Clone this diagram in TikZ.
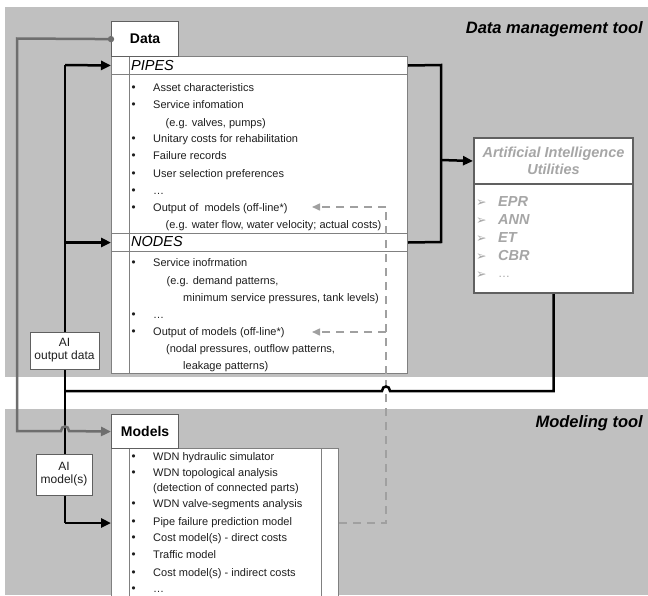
\documentclass[tikz,border=0pt]{standalone}
\usepackage{fontspec}
\setmainfont{Liberation Sans}
\newfontfamily\symfont{DejaVu Sans}
\usetikzlibrary{arrows.meta}
\definecolor{bggray}{HTML}{C0C0C0}
\definecolor{boxline}{HTML}{808080}
\definecolor{darkline}{HTML}{606060}
\definecolor{conngray}{HTML}{6E6E6E}
\definecolor{dashgray}{HTML}{A0A0A0}
\definecolor{aitext}{HTML}{A6A6A6}
\definecolor{txt}{HTML}{1E1E1E}
\tikzset{
  bodytxt/.style={font=\fontsize{11}{13}\selectfont, text=txt, inner sep=0pt, anchor=base west},
  bulsym/.style={font=\symfont\fontsize{11}{13}\selectfont, text=txt, inner sep=0pt, anchor=base},
  panel/.style={draw=boxline, line width=1pt, fill=white, anchor=north west, inner sep=0pt},
  hdrrow/.style={draw=boxline, line width=1pt, anchor=north west, inner sep=0pt},
  collinestyle/.style={draw=boxline, line width=1pt},
  tabbox/.style={draw=darkline, line width=1.2pt, fill=white, anchor=north west, inner sep=0pt,
    font=\bfseries\fontsize{14}{16}\selectfont, text=black},
  hdrtxt/.style={font=\itshape\fontsize{14.5}{17}\selectfont, text=black, inner sep=0pt, anchor=west},
  titletxt/.style={font=\bfseries\itshape\fontsize{16.5}{19}\selectfont, text=black, inner sep=0pt, anchor=base east},
  aibox/.style={draw=darkline, line width=2pt, fill=white, anchor=north west, inner sep=0pt},
  aihdrtxt/.style={font=\bfseries\itshape\fontsize{14.5}{17}\selectfont, text=aitext, align=center},
  aisym/.style={font=\symfont\fontsize{12.5}{14}\selectfont, text=aitext, inner sep=0pt, anchor=base west},
  aiitem/.style={font=\bfseries\itshape\fontsize{14.5}{17}\selectfont, text=aitext, inner sep=0pt, anchor=base west},
  aidots/.style={font=\fontsize{12}{14}\selectfont, text=aitext, inner sep=0pt, anchor=base west},
  lblbox/.style={draw=darkline, line width=1pt, fill=white, inner sep=0pt, align=center,
    font=\fontsize{12}{13}\selectfont, text=txt},
  blk/.style={draw=black, line width=2.5pt},
  blkarrow/.style={blk, -{Triangle[length=10pt,width=9pt]}},
  gcon/.style={draw=conngray, line width=2.5pt, -{Triangle[length=10pt,width=9pt]}},
  dsh/.style={draw=dashgray, line width=1.5pt, dash pattern=on 8pt off 6pt},
  dsharrow/.style={dsh, -{Triangle[length=8pt,width=7pt]}},
}
\newcommand\bulitem[3]{%
  \node[bulsym] (#1b) at (133.5,#2) {•};
  \node[bodytxt] (#1) at (153,#2) {#3};}
\begin{document}
\begin{tikzpicture}[x=1pt,y=-1pt]
\useasboundingbox (0,0) rectangle (648,595);
\clip (0,0) rectangle (648,595);
\fill[white] (0,0) rectangle (648,595);
\fill[bggray] (5,7) rectangle (648,377);
\fill[bggray] (5,409) rectangle (648,595);
\node[titletxt] (dmtitle) at (643,33) {Data management tool};
\node[titletxt] (mttitle) at (643,427) {Modeling tool};

% ---------- Data panel
\node[panel, minimum width=296pt, minimum height=317pt] (databox) at (111,56) {};
\node[hdrrow, minimum width=296pt, minimum height=18pt] (pipeshdr) at (111,56) {};
\node[hdrrow, minimum width=296pt, minimum height=18pt] (nodeshdr) at (111,233) {};
\draw[collinestyle] (129,56) -- (129,373);
\node[hdrtxt] (pipestxt) at (131,66) {PIPES};
\node[hdrtxt] (nodestxt) at (131,242) {NODES};
\node[tabbox, minimum width=67pt, minimum height=35pt] (datatab) at (111,21) {Data};

\bulitem{pa}{91}{Asset characteristics}
\bulitem{pb}{108}{Service infomation}
\node[bodytxt] (pb2) at (165.5,126) {(e.g. valves, pumps)};
\bulitem{pc}{142}{Unitary costs for rehabilitation}
\bulitem{pd}{159}{Failure records}
\bulitem{pe}{177}{User selection preferences}
\bulitem{pf}{194}{…}
\bulitem{pg}{211}{Output of\ \ models (off-line*)}
\node[bodytxt] (pg2) at (165.5,228) {(e.g. water flow, water velocity; actual costs)};

\bulitem{na}{266}{Service inofrmation}
\node[bodytxt] (na2) at (166.5,284) {(e.g. demand patterns,};
\node[bodytxt] (na3) at (183,301) {minimum service pressures, tank levels)};
\bulitem{nb}{318}{…}
\bulitem{nc}{335}{Output of models (off-line*)}
\node[bodytxt] (nc2) at (166,352) {(nodal pressures, outflow patterns,};
\node[bodytxt] (nc3) at (183,369) {leakage patterns)};

% ---------- Models panel
\node[panel, minimum width=227pt, minimum height=160pt] (modelsbox) at (111,448) {};
\draw[collinestyle] (129,448) -- (129,600);
\draw[collinestyle] (321,448) -- (321,600);
\node[tabbox, minimum width=67pt, minimum height=34pt] (modelstab) at (111,414) {Models};

\bulitem{ma}{460}{WDN hydraulic simulator}
\bulitem{mb}{476}{WDN topological analysis}
\node[bodytxt] (mb2) at (153,491) {(detection of connected parts)};
\bulitem{mc}{507}{WDN valve-segments analysis}
\bulitem{md}{525}{Pipe failure prediction model}
\bulitem{me}{541}{Cost model(s) - direct costs}
\bulitem{mf}{558}{Traffic model}
\bulitem{mg}{576}{Cost model(s) - indirect costs}
\bulitem{mh}{592}{…}

% ---------- AI utilities
\node[aibox, minimum width=159pt, minimum height=46pt] (aihdr) at (473,137) {};
\node[aihdrtxt] (aihdrtxt) at (aihdr.center) {Artificial Intelligence\\Utilities};
\node[aibox, minimum width=159pt, minimum height=109pt] (aibody) at (473,183) {};
\node[aisym] (s1) at (476,206) {➢}; \node[aiitem] (t1) at (498,206) {EPR};
\node[aisym] (s2) at (476,224) {➢}; \node[aiitem] (t2) at (498,224) {ANN};
\node[aisym] (s3) at (476,242) {➢}; \node[aiitem] (t3) at (498,242) {ET};
\node[aisym] (s4) at (476,260) {➢}; \node[aiitem] (t4) at (498,260) {CBR};
\node[aisym] (s5) at (476,278) {➢}; \node[aidots] (t5) at (498,277) {…};

% ---------- coordinates
\coordinate (brTop) at (441,65);
\coordinate (brBot) at (441,242);
\coordinate (brMid) at (441,160);
\coordinate (busTop) at (65,65);
\coordinate (busBot) at (65,523);
\coordinate (busJoin) at (65,391);
\coordinate (hopR) at (390,391);
\coordinate (hopL) at (382,391);
\coordinate (dashCorner) at (386,523);
\coordinate (dashTop) at (386,207);
\coordinate (dashMid) at (386,332);
\coordinate (pOutTip) at (312,207);
\coordinate (nOutTip) at (312,332);
\coordinate (gTop) at (17,38.5);
\coordinate (gBot) at (17,431);
\coordinate (gHopL) at (61,431);
\coordinate (gHopR) at (69,431);

% ---------- dashed feedback
\draw[dsh] (modelsbox.east |- busBot) -- (dashCorner) -- (dashTop);
\draw[dsharrow] (dashTop) -- (pOutTip);
\draw[dsharrow] (dashMid) -- (nOutTip);

% ---------- black connectors
\draw[blk] (pipeshdr.east) -- (brTop) -- (brBot) -- (nodeshdr.east);
\draw[blkarrow] (brMid) -- (aihdr.west);
\draw[blk] (busTop) -- (busBot);
\draw[blkarrow] (busTop) -- (pipeshdr.west);
\draw[blkarrow] (busTop |- nodeshdr.west) -- (nodeshdr.west);
\draw[blkarrow] (busBot) -- (modelsbox.west |- busBot);
\draw[blk] (aibody.south) |- (hopR) .. controls (390,385) and (382,385) .. (hopL) -- (busJoin);

% ---------- gray connector
\draw[gcon] (datatab.west) -- (gTop) -- (gBot) -- (gHopL) .. controls (61,425) and (69,425) .. (gHopR) -- (modelstab.west);
\fill[conngray] (datatab.west) circle (3.2pt);

% ---------- labels on the bus
\node[lblbox, minimum width=69pt, minimum height=37pt] (aiout) at (64.5,350.5) {AI\\output data};
\node[lblbox, minimum width=56pt, minimum height=41pt] (aimod) at (64,474.5) {AI\\model(s)};
\end{tikzpicture}
\end{document}
